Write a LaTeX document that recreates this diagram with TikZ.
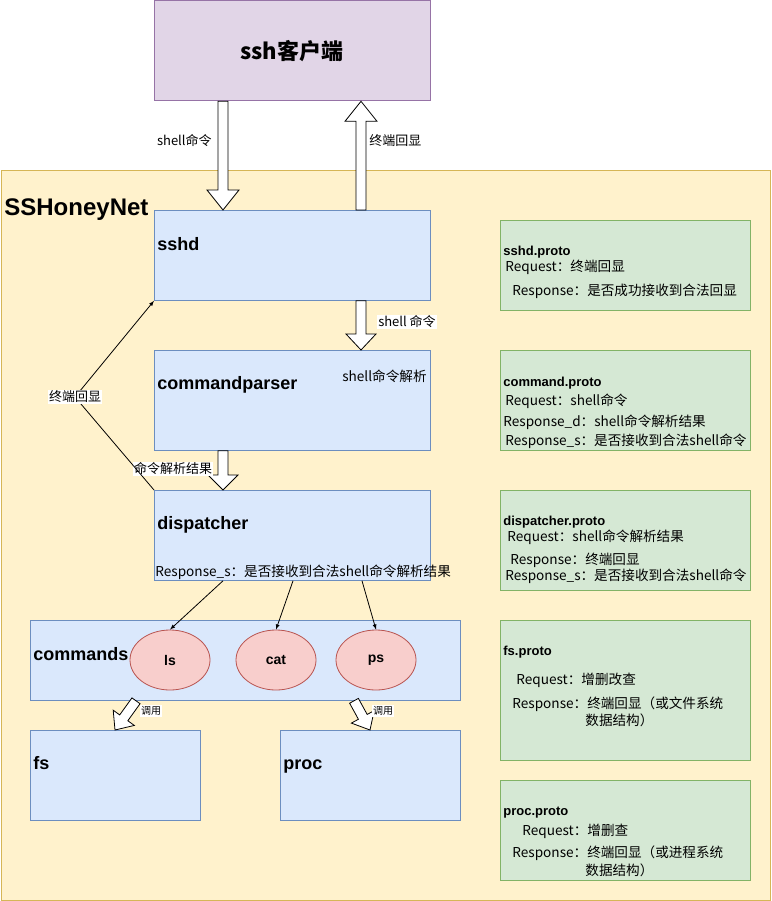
\documentclass[tikz,border=0pt]{standalone}
\usepackage{fontspec}
\setmainfont{Noto Sans CJK SC}
\newfontfamily\latin{Liberation Sans}
\usetikzlibrary{calc,shapes.geometric}

\definecolor{violetfond}{HTML}{E1D5E7}
\definecolor{violetbord}{HTML}{9673A6}
\definecolor{jaunefond}{HTML}{FFF2CC}
\definecolor{jaunebord}{HTML}{D6B656}
\definecolor{bleufond}{HTML}{DAE8FC}
\definecolor{bleubord}{HTML}{6C8EBF}
\definecolor{vertfond}{HTML}{D5E8D4}
\definecolor{vertbord}{HTML}{82B366}
\definecolor{rougefond}{HTML}{F8CECC}
\definecolor{rougebord}{HTML}{B85450}

% grosse fleche : depart, arrivee, demi-tige, demi-tete, longueur tete
\newcommand\grossefleche[5]{%
	\coordinate (gf-a) at (#1);
	\coordinate (gf-b) at (#2);
	\coordinate (gf-h) at ($(gf-b)!#5!(gf-a)$);
	\draw[fill=white] ($(gf-a)!#3!90:(gf-b)$) -- ($(gf-h)!#3!-90:(gf-a)$) -- ($(gf-h)!#4!-90:(gf-a)$) -- (gf-b)
		-- ($(gf-h)!#4!90:(gf-a)$) -- ($(gf-h)!#3!90:(gf-a)$) -- ($(gf-a)!#3!-90:(gf-b)$) -- cycle;}

\begin{document}
\begin{tikzpicture}[x=1pt, y=-1pt, line width=0.8pt]
			\tikzset{boite/.style={rectangle, draw=bleubord, fill=bleufond, anchor=north west, inner sep=0pt},
				proto/.style={rectangle, draw=vertbord, fill=vertfond, anchor=north west, inner sep=0pt, minimum width=250pt},
				ovale/.style={ellipse, draw=rougebord, fill=rougefond, minimum width=80pt, minimum height=60pt, inner sep=0pt, font=\latin\bfseries\fontsize{14}{16}\selectfont},
				titre/.style={anchor=base west, inner sep=0pt, font=\latin\bfseries\fontsize{18}{20}\selectfont},
				sous/.style={anchor=base west, inner sep=0pt, font=\latin\bfseries\fontsize{13}{15}\selectfont},
				texte/.style={anchor=base west, inner sep=0pt, font=\fontsize{13.6}{16}\selectfont},
				etiquette/.style={fill=white, inner sep=1pt, font=\fontsize{13}{15}\selectfont},
				fleche/.style={>=latex, ->}};

			\useasboundingbox (0,0) rectangle (771,901);
			\fill[white] (0,0) rectangle (771,901);

			\node[draw=jaunebord, fill=jaunefond, anchor=north west, minimum width=769.5pt, minimum height=729.5pt, inner sep=0pt] (honeynet) at (0.5,170) {};
			\node[draw=violetbord, fill=violetfond, anchor=north west, minimum width=276pt, minimum height=100pt, inner sep=0pt] (client) at (154,0.5) {};
			\node[font=\bfseries\fontsize{22}{26}\selectfont] (nomclient) at (292,51) {ssh客户端};
			\node[titre, font=\latin\bfseries\fontsize{24}{28}\selectfont] (nomnet) at (4,216) {SSHoneyNet};

			\node[boite, minimum width=276pt, minimum height=90pt] (sshd) at (154,210) {};
			\node[boite, minimum width=276pt, minimum height=100pt] (parser) at (154,350) {};
			\node[boite, minimum width=276pt, minimum height=90pt] (dispatcher) at (154,490) {};
			\node[boite, minimum width=430pt, minimum height=80pt] (commands) at (30,620) {};
			\node[boite, minimum width=170pt, minimum height=90pt] (fs) at (30,730) {};
			\node[boite, minimum width=180pt, minimum height=90pt] (proc) at (280,730) {};

			\node[titre] at (157,250) {sshd};
			\node[titre] at (157,389) {commandparser};
			\node[texte, anchor=base east] at (427,381) {shell命令解析};
			\node[titre] at (157,529) {dispatcher};
			\node[texte] at (155,576) {Response\_s：是否接收到合法shell命令解析结果};
			\node[titre] at (33,660) {commands};
			\node[titre] at (33,769) {fs};
			\node[titre] at (283,769) {proc};

			\node[ovale] (ls) at (170,660) {ls};
			\node[ovale] (cat) at (276,660) {cat};
			\node[ovale] (ps) at (376,660) {ps};

			\node[proto, minimum height=90pt] (psshd) at (500,220) {};
			\node[proto, minimum height=100pt] (pcommand) at (500,350) {};
			\node[proto, minimum height=100pt] (pdispatcher) at (500,490) {};
			\node[proto, minimum height=140pt] (pfs) at (500,620) {};
			\node[proto, minimum height=100pt] (pproc) at (500,780) {};

			\node[sous] at (503,255) {sshd.proto};
			\node[texte] at (505,271) {Request：终端回显};
			\node[texte] at (512,295) {Response：是否成功接收到合法回显};

			\node[sous] at (503,386) {command.proto};
			\node[texte] at (505,405) {Request：shell命令};
			\node[texte] at (503,426) {Response\_d：shell命令解析结果};
			\node[texte] at (505,445) {Response\_s：是否接收到合法shell命令};

			\node[sous] at (503,525) {dispatcher.proto};
			\node[texte] at (507,541) {Request：shell命令解析结果};
			\node[texte] at (510,564) {Response：终端回显};
			\node[texte] at (505,580) {Response\_s：是否接收到合法shell命令};

			\node[sous] at (503,655) {fs.proto};
			\node[texte] at (516,684) {Request：增删改查};
			\node[texte] at (512,708) {Response：终端回显（或文件系统};
			\node[texte] at (585,725) {数据结构）};

			\node[sous] at (503,815) {proc.proto};
			\node[texte] at (522,835) {Request：增删查};
			\node[texte] at (512,857) {Response：终端回显（或进程系统};
			\node[texte] at (585,875) {数据结构）};

			% grosses fleches
			\grossefleche{[xshift=69pt]client.south west}{[xshift=69pt]sshd.north west}{5pt}{16pt}{20pt}
			\grossefleche{[xshift=207pt]sshd.north west}{[xshift=207pt]client.south west}{5pt}{16pt}{20pt}
			\grossefleche{[xshift=207pt]sshd.south west}{[xshift=207pt]parser.north west}{5pt}{15pt}{16pt}
			\grossefleche{[xshift=69pt]parser.south west}{[xshift=69pt]dispatcher.north west}{5pt}{15pt}{15pt}
			\grossefleche{[xshift=106pt]commands.south west}{[xshift=85pt]fs.north west}{5pt}{13pt}{15pt}
			\grossefleche{[xshift=324pt]commands.south west}{[xshift=90pt]proc.north west}{5pt}{13pt}{15pt}

			\node[anchor=base east, inner sep=0pt, font=\fontsize{13}{15}\selectfont] at (212,146) {shell命令};
			\node[anchor=base west, inner sep=0pt, font=\fontsize{13}{15}\selectfont] at (369,146) {终端回显};
			\node[etiquette] at (407,322) {shell 命令};
			\node[etiquette] at (173,469) {命令解析结果};
			\node[etiquette, font=\fontsize{10}{12}\selectfont] at (151,711) {调用};
			\node[etiquette, font=\fontsize{10}{12}\selectfont] at (383,711) {调用};

			% fleches fines
			\coordinate (coude) at (75,397);
			\draw[fleche] (dispatcher.north west) -- (coude) -- (sshd.south west);
			\node[etiquette] at (coude) {终端回显};
			\draw[fleche] ([xshift=69pt]dispatcher.south west) to (ls.north);
			\draw[fleche] ([xshift=139pt]dispatcher.south west) to (cat.north);
			\draw[fleche] ([xshift=208pt]dispatcher.south west) to (ps.north);

		\end{tikzpicture}
\end{document}
